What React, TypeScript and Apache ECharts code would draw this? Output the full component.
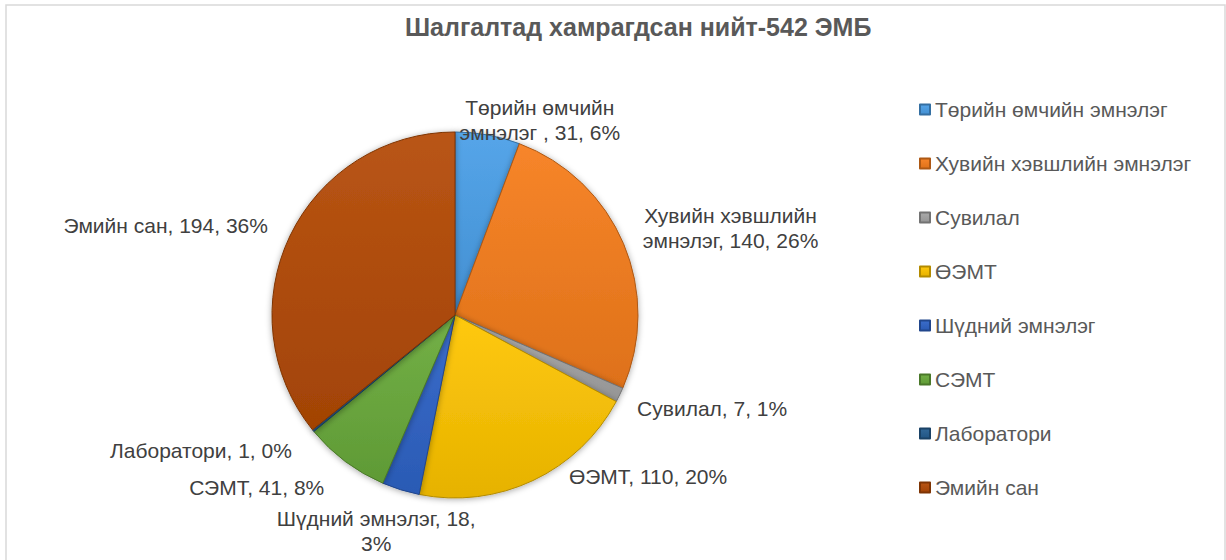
import React, { useEffect, useRef } from "react";
import * as echarts from "echarts";

const titleText = "Шалгалтад хамрагдсан нийт-542 ЭМБ";
const categories = [
  "Төрийн өмчийн эмнэлэг ",
  "Хувийн хэвшлийн эмнэлэг",
  "Сувилал",
  "ӨЭМТ",
  "Шүдний эмнэлэг",
  "СЭМТ",
  "Лаборатори",
  "Эмийн сан",
];
const values = [31, 140, 7, 110, 18, 41, 1, 194];

// styling (not data)
const colors = ["#4a9fe8", "#f77d1c", "#a5a5a5", "#ffc600", "#2f64c8", "#6aab3b", "#255e91", "#b44a06"];
const labelNudges = [[36, 19], [17, -2], [16, 4], [77, -24], [8, 8], [-42, 8], [-34, 6], [-23, -1]];
const labelBreakAfter = [2, 2, 0, 0, 3, 0, 0, 0];

const FONT = "'Liberation Sans', Arial, sans-serif";
const CX = 455;
const CY = 315;
const R = 183;

function shade(hex: string, amt: number): string {
  const n = parseInt(hex.slice(1), 16);
  let r = (n >> 16) & 255, g = (n >> 8) & 255, b = n & 255;
  const f = (c: number) => {
    const v = amt >= 0 ? c + (255 - c) * amt : c * (1 + amt);
    return Math.max(0, Math.min(255, Math.round(v)));
  };
  r = f(r); g = f(g); b = f(b);
  return "#" + ((1 << 24) | (r << 16) | (g << 8) | b).toString(16).slice(1);
}

export default function App() {
  const ref = useRef<HTMLDivElement>(null);
  useEffect(() => {
    if (!ref.current) return;
    const chart = echarts.init(ref.current, undefined, { renderer: "svg" });
    const total = values.reduce((a, b) => a + b, 0);
    const mids: number[] = [];
    let cum = 0;
    values.forEach((v) => {
      mids.push(((cum + v / 2) / total) * Math.PI * 2);
      cum += v;
    });

    const data = categories.map((name, i) => ({
      name,
      value: values[i],
      itemStyle: {
        color: new echarts.graphic.LinearGradient(0, 0, 0, 1, [
          { offset: 0, color: shade(colors[i], 0.06) },
          { offset: 1, color: shade(colors[i], -0.1) },
        ]),
        borderColor: shade(colors[i], -0.3),
      },
    }));

    chart.setOption({
      animation: false,
      backgroundColor: "#ffffff",
      color: colors,
      title: {
        text: titleText,
        left: 400,
        top: 9,
        textStyle: { fontFamily: FONT, fontSize: 25, fontWeight: "bold", color: "#595959" },
      },
      legend: {
        orient: "vertical",
        left: 914,
        top: 94,
        itemWidth: 10,
        itemHeight: 10,
        itemGap: 33,
        icon: "rect",
        data: categories,
        textStyle: { fontFamily: FONT, fontSize: 21, lineHeight: 21, color: "#595959" },
      },
      graphic: [
        {
          type: "rect",
          shape: { x: 6, y: 5, width: 1219, height: 600 },
          style: { fill: "none", stroke: "#d9d9d9", lineWidth: 1.5 },
          silent: true,
        },
      ],
      series: [
        {
          type: "pie",
          center: [CX, CY],
          radius: R,
          startAngle: 90,
          clockwise: true,
          avoidLabelOverlap: false,
          itemStyle: {
            borderWidth: 1,
            shadowBlur: 6,
            shadowColor: "rgba(0,0,0,0.35)",
            shadowOffsetY: 1,
          },
          label: {
            show: true,
            position: "outside",
            fontFamily: FONT,
            fontSize: 21,
            lineHeight: 25,
            color: "#404040",
            align: "center",
            formatter: (p: any) => {
              const txt = `${p.name}, ${p.value}, ${Math.round(p.percent)}%`;
              const k = labelBreakAfter[p.dataIndex];
              if (!k) return txt;
              const parts = txt.split(" ");
              return parts.slice(0, k).join(" ") + "\n" + parts.slice(k).join(" ");
            },
          },
          labelLine: { show: false },
          labelLayout: (p: any) => {
            const i = p.dataIndex;
            const a = mids[i];
            const ux = Math.sin(a);
            const uy = -Math.cos(a);
            const w = p.labelRect.width;
            const h = p.labelRect.height;
            const x = CX + (R + 10) * ux + (ux * w) / 2 + labelNudges[i][0];
            const y = CY + (R + 10) * uy + (uy * h) / 2 + labelNudges[i][1];
            return { x, y, align: "center", verticalAlign: "middle" };
          },
          data,
        },
      ],
    });
    return () => chart.dispose();
  }, []);
  return (
    <div
      ref={ref}
      style={{ position: "fixed", left: 0, top: 0, width: 1226, height: 560, background: "#fff" }}
    />
  );
}
